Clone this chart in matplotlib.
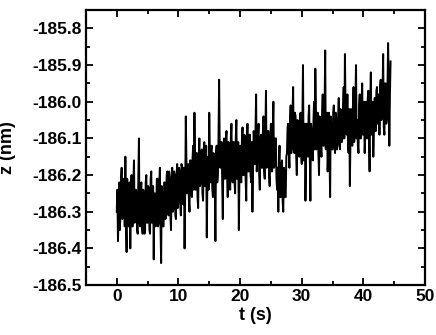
import numpy as np
import matplotlib
matplotlib.use("Agg")
import matplotlib.pyplot as plt
from matplotlib.ticker import MultipleLocator

# z trace, one sample every dt seconds (one row = 2 s)
dt = 0.1
z_nm = [
    -186.30, -186.24, -186.38, -186.31, -186.22, -186.35, -186.31, -186.21, -186.18, -186.32, -186.30, -186.21, -186.22, -186.34, -186.15, -186.33, -186.41, -186.21, -186.26, -186.34,
    -186.33, -186.22, -186.40, -186.25, -186.20, -186.34, -186.34, -186.22, -186.16, -186.33, -186.31, -186.24, -186.25, -186.35, -186.36, -186.21, -186.10, -186.33, -186.34, -186.23,
    -186.22, -186.34, -186.36, -186.24, -186.26, -186.36, -186.35, -186.22, -186.20, -186.33, -186.33, -186.23, -186.24, -186.35, -186.36, -186.21, -186.19, -186.33, -186.30, -186.23,
    -186.43, -186.25, -186.25, -186.34, -186.32, -186.21, -186.21, -186.34, -186.33, -186.22, -186.18, -186.34, -186.44, -186.23, -186.26, -186.34, -186.34, -186.22, -186.22, -186.32,
    -186.30, -186.20, -186.19, -186.30, -186.31, -186.19, -186.21, -186.31, -186.35, -186.21, -186.18, -186.30, -186.29, -186.19, -186.20, -186.31, -186.32, -186.20, -186.17, -186.29,
    -186.27, -186.18, -186.19, -186.28, -186.31, -186.17, -186.18, -186.27, -186.28, -186.18, -186.40, -186.25, -186.04, -186.16, -186.25, -186.23, -186.17, -186.27, -186.30, -186.16,
    -186.16, -186.25, -186.26, -186.15, -186.12, -186.24, -186.03, -186.16, -186.24, -186.14, -186.14, -186.26, -186.29, -186.15, -186.10, -186.23, -186.22, -186.14, -186.13, -186.25,
    -186.27, -186.13, -186.11, -186.23, -186.23, -186.12, -186.37, -186.22, -186.15, -186.24, -186.03, -186.14, -186.22, -186.13, -186.12, -186.24, -186.26, -186.14, -186.15, -186.22,
    -186.38, -186.14, -186.12, -186.22, -186.20, -186.10, -185.94, -186.12, -186.18, -186.11, -186.11, -186.22, -186.32, -186.12, -186.10, -186.21, -186.21, -186.10, -186.08, -186.20,
    -186.26, -186.11, -186.12, -186.22, -186.24, -186.10, -186.06, -186.20, -186.22, -186.11, -186.11, -186.22, -186.25, -186.10, -186.05, -186.21, -186.20, -186.11, -186.35, -186.20,
    -186.12, -186.21, -186.22, -186.10, -186.07, -186.20, -186.20, -186.09, -186.10, -186.21, -186.27, -186.11, -186.06, -186.19, -186.19, -186.09, -186.09, -186.20, -186.22, -186.11,
    -186.30, -186.18, -186.08, -186.10, -186.17, -186.08, -185.98, -186.19, -186.15, -186.09, -186.06, -186.20, -186.24, -186.10, -186.09, -186.18, -186.18, -186.08, -186.04, -186.19,
    -186.21, -186.09, -185.97, -186.18, -186.16, -186.08, -186.08, -186.20, -186.23, -186.10, -186.06, -186.19, -186.19, -186.08, -186.00, -186.18, -186.17, -186.10, -186.10, -186.21,
    -186.24, -186.18, -186.30, -186.16, -186.12, -186.26, -186.26, -186.17, -186.16, -186.27, -186.30, -186.18, -186.19, -186.26, -186.26, -186.15, -186.14, -186.07, -186.06, -186.14,
    -186.18, -186.05, -186.01, -186.14, -186.12, -186.04, -185.96, -186.13, -186.14, -186.03, -186.04, -186.15, -186.20, -186.05, -186.06, -186.14, -186.15, -186.04, -186.03, -186.14,
    -186.17, -186.05, -185.90, -186.16, -186.12, -186.06, -186.27, -186.15, -186.06, -186.07, -186.15, -186.04, -186.01, -186.15, -186.27, -186.06, -186.08, -186.15, -186.16, -186.05,
    -186.00, -186.13, -185.91, -186.03, -186.13, -186.05, -186.03, -186.14, -186.20, -186.04, -186.05, -186.13, -186.15, -186.03, -185.98, -186.12, -186.12, -186.02, -185.86, -186.13,
    -186.09, -186.03, -186.19, -186.12, -186.03, -186.14, -186.26, -186.04, -186.07, -186.13, -186.13, -186.03, -186.01, -186.12, -186.14, -186.03, -186.05, -186.13, -186.12, -186.04,
    -185.99, -186.11, -186.13, -186.02, -186.03, -186.11, -186.10, -186.01, -185.96, -186.10, -185.87, -186.01, -186.08, -186.09, -185.98, -186.12, -186.14, -186.02, -186.23, -186.10,
    -186.02, -186.10, -186.12, -186.01, -185.96, -186.11, -186.09, -186.00, -185.90, -186.10, -186.05, -186.12, -186.14, -186.01, -185.98, -186.10, -186.10, -186.00, -185.95, -186.09,
    -186.07, -186.00, -186.14, -186.09, -186.00, -186.01, -186.10, -185.99, -185.97, -186.10, -186.19, -186.01, -185.92, -186.09, -186.07, -186.00, -186.15, -186.08, -185.99, -185.99,
    -186.08, -185.97, -185.96, -186.06, -186.04, -185.98, -186.09, -185.96, -185.94, -186.05, -186.03, -185.97, -185.87, -186.07, -186.09, -185.95, -185.95, -186.06, -186.05, -185.96,
    -185.84, -185.95, -186.12, -185.98, -185.89,
]

t_s = np.arange(len(z_nm)) * dt

plt.rcParams['font.family'] = ['Liberation Sans', 'DejaVu Sans']
plt.rcParams['font.weight'] = 'bold'

fig = plt.figure(figsize=(4.36, 3.35), dpi=100)
ax = fig.add_axes([0.197, 0.149, 0.778, 0.821])

ax.plot(t_s, z_nm, color='black', lw=1.4)

ax.set_xlim(-5, 50)
ax.set_ylim(-186.5, -185.75)
ax.xaxis.set_major_locator(MultipleLocator(10))
ax.xaxis.set_minor_locator(MultipleLocator(5))
ax.yaxis.set_major_locator(MultipleLocator(0.1))
ax.yaxis.set_minor_locator(MultipleLocator(0.05))
ax.yaxis.set_major_formatter(plt.FormatStrFormatter('%.1f'))

ax.tick_params(which='both', direction='in', top=True, right=True, width=1.3)
ax.tick_params(which='major', length=5, labelsize=12.5, pad=3)
ax.tick_params(which='minor', length=3)
for lab in ax.get_xticklabels() + ax.get_yticklabels():
    lab.set_fontweight('bold')
for sp in ax.spines.values():
    sp.set_linewidth(1.6)

ax.set_xlabel('t (s)', fontsize=13, fontweight='bold', labelpad=2)
ax.set_ylabel('z (nm)', fontsize=13, fontweight='bold')
ax.yaxis.set_label_coords(-0.205, 0.5)

fig.savefig('out.png', dpi=100)
